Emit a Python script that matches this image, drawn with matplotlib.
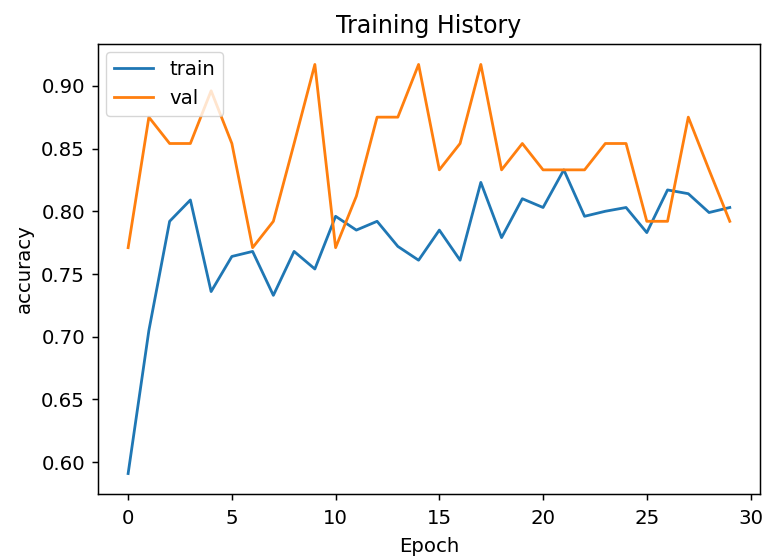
import numpy as np
import matplotlib
matplotlib.use("Agg")
from matplotlib import pyplot as plt

# accuracy per epoch
epochs = list(range(30))
train_acc = [0.591, 0.705, 0.792, 0.809, 0.736, 0.764, 0.768, 0.733, 0.768, 0.754,
             0.796, 0.785, 0.792, 0.772, 0.761, 0.785, 0.761, 0.823, 0.779, 0.810,
             0.803, 0.833, 0.796, 0.800, 0.803, 0.783, 0.817, 0.814, 0.799, 0.803]
val_acc = [0.771, 0.875, 0.854, 0.854, 0.896, 0.854, 0.771, 0.792, 0.854, 0.917,
           0.771, 0.812, 0.875, 0.875, 0.917, 0.833, 0.854, 0.917, 0.833, 0.854,
           0.833, 0.833, 0.833, 0.854, 0.854, 0.792, 0.792, 0.875, 0.833, 0.792]

s = 1.854 * 0.72  # scale from the original 72 dpi render
plt.rcParams['font.size'] = 14.2
plt.rcParams['axes.linewidth'] = 0.8 * s
plt.rcParams['xtick.major.width'] = 0.8 * s
plt.rcParams['ytick.major.width'] = 0.8 * s
plt.rcParams['xtick.major.size'] = 3.5 * s
plt.rcParams['ytick.major.size'] = 3.5 * s
plt.rcParams['xtick.major.pad'] = 4.5 * s
plt.rcParams['ytick.major.pad'] = 3.5 * s

fig = plt.figure(figsize=(7.66, 5.59), dpi=100)
ax = fig.add_axes([0.128, 0.1163, 0.864, 0.805])
ax.plot(epochs, train_acc, label='train', linewidth=1.5 * s)
ax.plot(epochs, val_acc, label='val', linewidth=1.5 * s)
ax.set_title('Training History', pad=6 * s)
ax.set_xlabel('Epoch', labelpad=5 * s)
ax.set_ylabel('accuracy', labelpad=4 * s)
ax.set_xticks([0, 5, 10, 15, 20, 25, 30])
ax.legend(loc='upper left', fontsize=14.2, handlelength=2.0, borderaxespad=0.4)
fig.savefig('out.png', dpi=100)
